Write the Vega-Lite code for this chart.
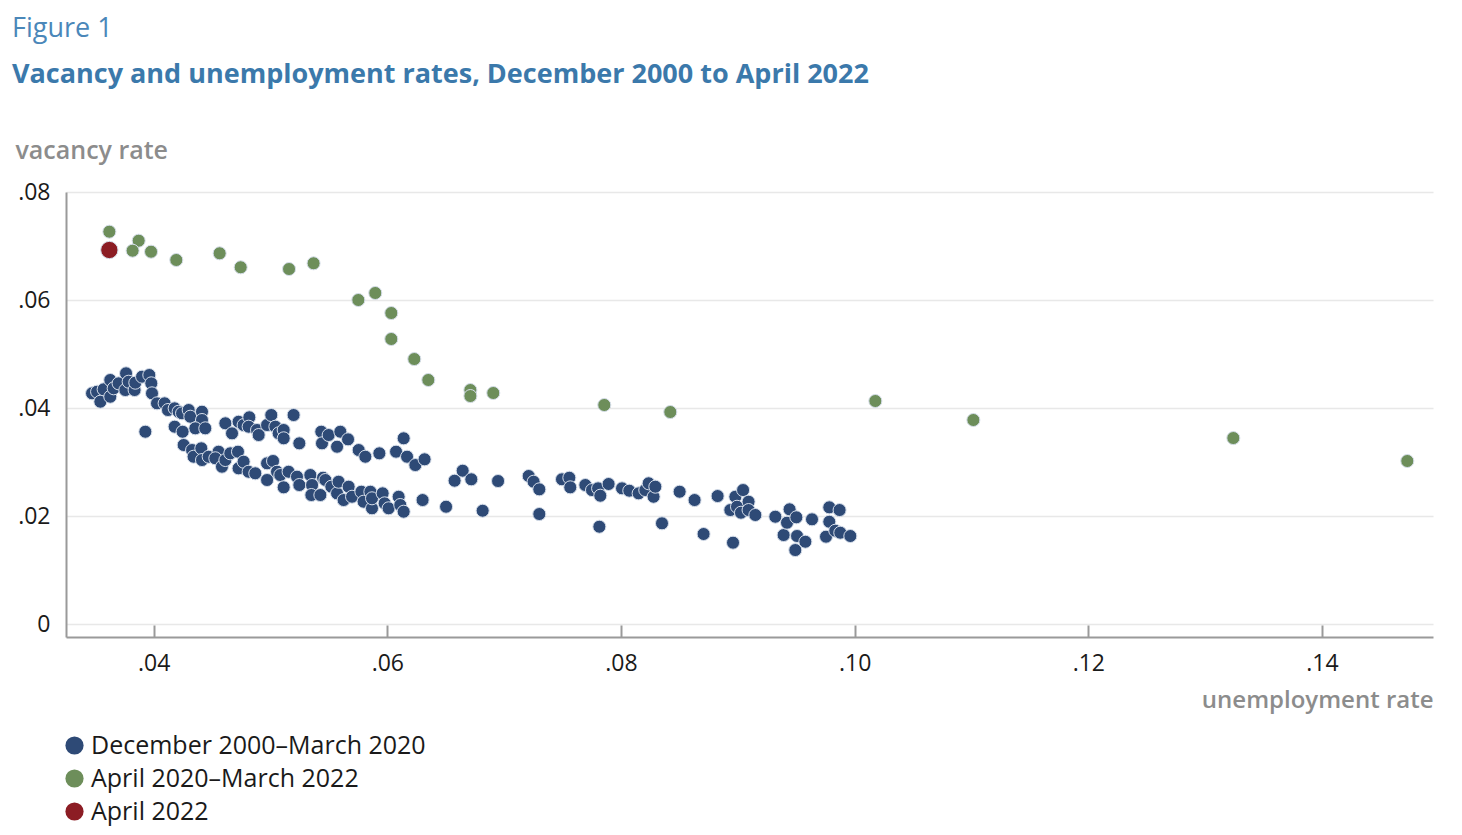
{
  "$schema": "https://vega.github.io/schema/vega-lite/v6.json",
  "width": 1367,
  "height": 445,
  "autosize": {"type": "none"},
  "padding": {"left": 66, "top": 192, "right": 29, "bottom": 198},
  "background": "white",
  "config": {"view": {"stroke": null}, "font": "Open Sans"},
  "title": {
    "text": "Figure 1",
    "subtitle": "Vacancy and unemployment rates, December 2000 to April 2022",
    "anchor": "start",
    "frame": "group",
    "dx": -54,
    "dy": 1,
    "fontSize": 27,
    "font": "Open Sans",
    "fontWeight": 400,
    "color": "#4a87b9",
    "subtitleFont": "Open Sans",
    "subtitleFontSize": 27,
    "subtitleFontWeight": "bold",
    "subtitleColor": "#3b79ab",
    "subtitlePadding": 19,
    "offset": 50
  },
  "data": {"values": [
    {"u":0.03473,"v":0.04272,"period":"December 2000–March 2020"},
    {"u":0.03516,"v":0.04302,"period":"December 2000–March 2020"},
    {"u":0.03544,"v":0.04117,"period":"December 2000–March 2020"},
    {"u":0.03572,"v":0.04346,"period":"December 2000–March 2020"},
    {"u":0.03629,"v":0.04209,"period":"December 2000–March 2020"},
    {"u":0.03629,"v":0.04519,"period":"December 2000–March 2020"},
    {"u":0.03658,"v":0.04365,"period":"December 2000–March 2020"},
    {"u":0.03700,"v":0.04457,"period":"December 2000–March 2020"},
    {"u":0.03764,"v":0.04643,"period":"December 2000–March 2020"},
    {"u":0.03758,"v":0.04333,"period":"December 2000–March 2020"},
    {"u":0.03786,"v":0.04487,"period":"December 2000–March 2020"},
    {"u":0.03837,"v":0.04333,"period":"December 2000–March 2020"},
    {"u":0.03843,"v":0.04469,"period":"December 2000–March 2020"},
    {"u":0.03901,"v":0.04580,"period":"December 2000–March 2020"},
    {"u":0.03963,"v":0.04611,"period":"December 2000–March 2020"},
    {"u":0.03980,"v":0.04457,"period":"December 2000–March 2020"},
    {"u":0.03986,"v":0.04272,"period":"December 2000–March 2020"},
    {"u":0.04029,"v":0.04087,"period":"December 2000–March 2020"},
    {"u":0.04094,"v":0.04087,"period":"December 2000–March 2020"},
    {"u":0.04123,"v":0.03963,"period":"December 2000–March 2020"},
    {"u":0.04180,"v":0.03994,"period":"December 2000–March 2020"},
    {"u":0.04214,"v":0.03931,"period":"December 2000–March 2020"},
    {"u":0.04243,"v":0.03902,"period":"December 2000–March 2020"},
    {"u":0.04300,"v":0.03963,"period":"December 2000–March 2020"},
    {"u":0.04314,"v":0.03839,"period":"December 2000–March 2020"},
    {"u":0.04414,"v":0.03931,"period":"December 2000–March 2020"},
    {"u":0.04414,"v":0.03778,"period":"December 2000–March 2020"},
    {"u":0.04357,"v":0.03624,"period":"December 2000–March 2020"},
    {"u":0.04442,"v":0.03624,"period":"December 2000–March 2020"},
    {"u":0.03929,"v":0.03561,"period":"December 2000–March 2020"},
    {"u":0.04180,"v":0.03654,"period":"December 2000–March 2020"},
    {"u":0.04248,"v":0.03561,"period":"December 2000–March 2020"},
    {"u":0.04257,"v":0.03315,"period":"December 2000–March 2020"},
    {"u":0.04329,"v":0.03222,"period":"December 2000–March 2020"},
    {"u":0.04342,"v":0.03098,"period":"December 2000–March 2020"},
    {"u":0.04408,"v":0.03254,"period":"December 2000–March 2020"},
    {"u":0.04414,"v":0.03037,"period":"December 2000–March 2020"},
    {"u":0.04471,"v":0.03098,"period":"December 2000–March 2020"},
    {"u":0.04556,"v":0.03191,"period":"December 2000–March 2020"},
    {"u":0.04528,"v":0.03069,"period":"December 2000–March 2020"},
    {"u":0.04585,"v":0.02913,"period":"December 2000–March 2020"},
    {"u":0.04614,"v":0.03037,"period":"December 2000–March 2020"},
    {"u":0.04614,"v":0.03717,"period":"December 2000–March 2020"},
    {"u":0.04671,"v":0.03531,"period":"December 2000–March 2020"},
    {"u":0.04727,"v":0.03746,"period":"December 2000–March 2020"},
    {"u":0.04770,"v":0.03685,"period":"December 2000–March 2020"},
    {"u":0.04819,"v":0.03828,"period":"December 2000–March 2020"},
    {"u":0.04813,"v":0.03654,"period":"December 2000–March 2020"},
    {"u":0.04885,"v":0.03593,"period":"December 2000–March 2020"},
    {"u":0.04899,"v":0.03500,"period":"December 2000–March 2020"},
    {"u":0.04971,"v":0.03685,"period":"December 2000–March 2020"},
    {"u":0.05007,"v":0.03870,"period":"December 2000–March 2020"},
    {"u":0.05042,"v":0.03654,"period":"December 2000–March 2020"},
    {"u":0.05070,"v":0.03531,"period":"December 2000–March 2020"},
    {"u":0.05113,"v":0.03593,"period":"December 2000–March 2020"},
    {"u":0.05113,"v":0.03439,"period":"December 2000–March 2020"},
    {"u":0.05198,"v":0.03870,"period":"December 2000–March 2020"},
    {"u":0.05247,"v":0.03346,"period":"December 2000–March 2020"},
    {"u":0.05435,"v":0.03561,"period":"December 2000–March 2020"},
    {"u":0.05441,"v":0.03346,"period":"December 2000–March 2020"},
    {"u":0.05498,"v":0.03500,"period":"December 2000–March 2020"},
    {"u":0.05570,"v":0.03283,"period":"December 2000–March 2020"},
    {"u":0.05598,"v":0.03561,"period":"December 2000–March 2020"},
    {"u":0.05664,"v":0.03420,"period":"December 2000–March 2020"},
    {"u":0.05755,"v":0.03222,"period":"December 2000–March 2020"},
    {"u":0.05812,"v":0.03098,"period":"December 2000–March 2020"},
    {"u":0.05932,"v":0.03161,"period":"December 2000–March 2020"},
    {"u":0.06075,"v":0.03191,"period":"December 2000–March 2020"},
    {"u":0.06140,"v":0.03439,"period":"December 2000–March 2020"},
    {"u":0.06169,"v":0.03098,"period":"December 2000–March 2020"},
    {"u":0.06240,"v":0.02944,"period":"December 2000–March 2020"},
    {"u":0.06319,"v":0.03050,"period":"December 2000–March 2020"},
    {"u":0.04656,"v":0.03161,"period":"December 2000–March 2020"},
    {"u":0.04722,"v":0.03191,"period":"December 2000–March 2020"},
    {"u":0.04727,"v":0.02883,"period":"December 2000–March 2020"},
    {"u":0.04770,"v":0.03006,"period":"December 2000–March 2020"},
    {"u":0.04813,"v":0.02820,"period":"December 2000–March 2020"},
    {"u":0.04870,"v":0.02791,"period":"December 2000–March 2020"},
    {"u":0.04971,"v":0.02667,"period":"December 2000–March 2020"},
    {"u":0.04971,"v":0.02976,"period":"December 2000–March 2020"},
    {"u":0.05022,"v":0.03019,"period":"December 2000–March 2020"},
    {"u":0.05056,"v":0.02820,"period":"December 2000–March 2020"},
    {"u":0.05084,"v":0.02759,"period":"December 2000–March 2020"},
    {"u":0.05113,"v":0.02531,"period":"December 2000–March 2020"},
    {"u":0.05155,"v":0.02820,"period":"December 2000–March 2020"},
    {"u":0.05227,"v":0.02728,"period":"December 2000–March 2020"},
    {"u":0.05247,"v":0.02574,"period":"December 2000–March 2020"},
    {"u":0.05341,"v":0.02759,"period":"December 2000–March 2020"},
    {"u":0.05356,"v":0.02574,"period":"December 2000–March 2020"},
    {"u":0.05350,"v":0.02389,"period":"December 2000–March 2020"},
    {"u":0.05427,"v":0.02389,"period":"December 2000–March 2020"},
    {"u":0.05450,"v":0.02709,"period":"December 2000–March 2020"},
    {"u":0.05470,"v":0.02667,"period":"December 2000–March 2020"},
    {"u":0.05521,"v":0.02543,"period":"December 2000–March 2020"},
    {"u":0.05570,"v":0.02420,"period":"December 2000–March 2020"},
    {"u":0.05583,"v":0.02635,"period":"December 2000–March 2020"},
    {"u":0.05626,"v":0.02296,"period":"December 2000–March 2020"},
    {"u":0.05669,"v":0.02543,"period":"December 2000–March 2020"},
    {"u":0.05698,"v":0.02357,"period":"December 2000–March 2020"},
    {"u":0.05778,"v":0.02450,"period":"December 2000–March 2020"},
    {"u":0.05797,"v":0.02265,"period":"December 2000–March 2020"},
    {"u":0.05855,"v":0.02450,"period":"December 2000–March 2020"},
    {"u":0.05869,"v":0.02143,"period":"December 2000–March 2020"},
    {"u":0.05869,"v":0.02328,"period":"December 2000–March 2020"},
    {"u":0.05960,"v":0.02420,"period":"December 2000–March 2020"},
    {"u":0.05977,"v":0.02235,"period":"December 2000–March 2020"},
    {"u":0.06011,"v":0.02143,"period":"December 2000–March 2020"},
    {"u":0.06097,"v":0.02357,"period":"December 2000–March 2020"},
    {"u":0.06111,"v":0.02204,"period":"December 2000–March 2020"},
    {"u":0.06140,"v":0.02080,"period":"December 2000–March 2020"},
    {"u":0.06302,"v":0.02296,"period":"December 2000–March 2020"},
    {"u":0.06503,"v":0.02172,"period":"December 2000–March 2020"},
    {"u":0.06576,"v":0.02654,"period":"December 2000–March 2020"},
    {"u":0.06645,"v":0.02839,"period":"December 2000–March 2020"},
    {"u":0.06719,"v":0.02680,"period":"December 2000–March 2020"},
    {"u":0.06816,"v":0.02098,"period":"December 2000–March 2020"},
    {"u":0.06948,"v":0.02648,"period":"December 2000–March 2020"},
    {"u":0.07210,"v":0.02741,"period":"December 2000–March 2020"},
    {"u":0.07252,"v":0.02635,"period":"December 2000–March 2020"},
    {"u":0.07301,"v":0.02494,"period":"December 2000–March 2020"},
    {"u":0.07301,"v":0.02037,"period":"December 2000–March 2020"},
    {"u":0.07495,"v":0.02680,"period":"December 2000–March 2020"},
    {"u":0.07558,"v":0.02709,"period":"December 2000–March 2020"},
    {"u":0.07566,"v":0.02531,"period":"December 2000–March 2020"},
    {"u":0.07695,"v":0.02574,"period":"December 2000–March 2020"},
    {"u":0.07752,"v":0.02481,"period":"December 2000–March 2020"},
    {"u":0.07804,"v":0.02513,"period":"December 2000–March 2020"},
    {"u":0.07823,"v":0.02376,"period":"December 2000–March 2020"},
    {"u":0.07894,"v":0.02593,"period":"December 2000–March 2020"},
    {"u":0.07815,"v":0.01802,"period":"December 2000–March 2020"},
    {"u":0.08009,"v":0.02513,"period":"December 2000–March 2020"},
    {"u":0.08071,"v":0.02469,"period":"December 2000–March 2020"},
    {"u":0.08151,"v":0.02420,"period":"December 2000–March 2020"},
    {"u":0.08208,"v":0.02481,"period":"December 2000–March 2020"},
    {"u":0.08237,"v":0.02606,"period":"December 2000–March 2020"},
    {"u":0.08279,"v":0.02357,"period":"December 2000–March 2020"},
    {"u":0.08294,"v":0.02543,"period":"December 2000–March 2020"},
    {"u":0.08351,"v":0.01865,"period":"December 2000–March 2020"},
    {"u":0.08502,"v":0.02450,"period":"December 2000–March 2020"},
    {"u":0.08630,"v":0.02296,"period":"December 2000–March 2020"},
    {"u":0.08707,"v":0.01667,"period":"December 2000–March 2020"},
    {"u":0.08827,"v":0.02370,"period":"December 2000–March 2020"},
    {"u":0.08936,"v":0.02111,"period":"December 2000–March 2020"},
    {"u":0.08979,"v":0.02357,"period":"December 2000–March 2020"},
    {"u":0.08993,"v":0.02172,"period":"December 2000–March 2020"},
    {"u":0.09045,"v":0.02481,"period":"December 2000–March 2020"},
    {"u":0.09027,"v":0.02061,"period":"December 2000–March 2020"},
    {"u":0.09092,"v":0.02265,"period":"December 2000–March 2020"},
    {"u":0.09092,"v":0.02111,"period":"December 2000–March 2020"},
    {"u":0.09150,"v":0.02019,"period":"December 2000–March 2020"},
    {"u":0.08959,"v":0.01506,"period":"December 2000–March 2020"},
    {"u":0.09321,"v":0.01987,"period":"December 2000–March 2020"},
    {"u":0.09392,"v":0.01648,"period":"December 2000–March 2020"},
    {"u":0.09443,"v":0.02124,"period":"December 2000–March 2020"},
    {"u":0.09421,"v":0.01876,"period":"December 2000–March 2020"},
    {"u":0.09501,"v":0.01976,"period":"December 2000–March 2020"},
    {"u":0.09507,"v":0.01630,"period":"December 2000–March 2020"},
    {"u":0.09492,"v":0.01370,"period":"December 2000–March 2020"},
    {"u":0.09578,"v":0.01524,"period":"December 2000–March 2020"},
    {"u":0.09635,"v":0.01939,"period":"December 2000–March 2020"},
    {"u":0.09755,"v":0.01617,"period":"December 2000–March 2020"},
    {"u":0.09783,"v":0.02161,"period":"December 2000–March 2020"},
    {"u":0.09783,"v":0.01894,"period":"December 2000–March 2020"},
    {"u":0.09834,"v":0.01728,"period":"December 2000–March 2020"},
    {"u":0.09871,"v":0.02111,"period":"December 2000–March 2020"},
    {"u":0.09877,"v":0.01691,"period":"December 2000–March 2020"},
    {"u":0.09963,"v":0.01630,"period":"December 2000–March 2020"},
    {"u":0.03621,"v":0.07265,"period":"April 2020–March 2022"},
    {"u":0.03872,"v":0.07098,"period":"April 2020–March 2022"},
    {"u":0.03820,"v":0.06913,"period":"April 2020–March 2022"},
    {"u":0.03978,"v":0.06894,"period":"April 2020–March 2022"},
    {"u":0.04194,"v":0.06741,"period":"April 2020–March 2022"},
    {"u":0.04565,"v":0.06865,"period":"April 2020–March 2022"},
    {"u":0.04745,"v":0.06606,"period":"April 2020–March 2022"},
    {"u":0.05159,"v":0.06574,"period":"April 2020–March 2022"},
    {"u":0.05369,"v":0.06680,"period":"April 2020–March 2022"},
    {"u":0.05752,"v":0.06000,"period":"April 2020–March 2022"},
    {"u":0.05897,"v":0.06130,"period":"April 2020–March 2022"},
    {"u":0.06034,"v":0.05759,"period":"April 2020–March 2022"},
    {"u":0.06034,"v":0.05278,"period":"April 2020–March 2022"},
    {"u":0.06231,"v":0.04907,"period":"April 2020–March 2022"},
    {"u":0.06351,"v":0.04519,"period":"April 2020–March 2022"},
    {"u":0.06711,"v":0.04333,"period":"April 2020–March 2022"},
    {"u":0.06711,"v":0.04222,"period":"April 2020–March 2022"},
    {"u":0.06907,"v":0.04278,"period":"April 2020–March 2022"},
    {"u":0.07857,"v":0.04056,"period":"April 2020–March 2022"},
    {"u":0.08422,"v":0.03926,"period":"April 2020–March 2022"},
    {"u":0.10177,"v":0.04130,"period":"April 2020–March 2022"},
    {"u":0.11016,"v":0.03778,"period":"April 2020–March 2022"},
    {"u":0.13241,"v":0.03444,"period":"April 2020–March 2022"},
    {"u":0.14730,"v":0.03019,"period":"April 2020–March 2022"},
    {"u":0.03621,"v":0.06926,"period":"April 2022"}
  ]},
  "mark": {"type": "circle", "opacity": 1, "stroke": "#d6deea", "strokeWidth": 1},
  "encoding": {
    "x": {
      "field": "u", "type": "quantitative",
      "scale": {"domain": [0.0325, 0.1495], "nice": false, "zero": false},
      "axis": {
        "values": [0.04, 0.06, 0.08, 0.10, 0.12, 0.14],
        "labelExpr": "substring(format(datum.value, '.2f'), 1)",
        "grid": false,
        "domainColor": "#9a9a9a", "domainWidth": 2,
        "ticks": true, "tickSize": -12, "tickColor": "#9a9a9a", "tickWidth": 2,
        "labelPadding": 27, "labelFontSize": 23, "labelColor": "#1a1a1a", "labelFont": "Open Sans",
        "title": "unemployment rate",
        "titleX": 1367, "titleY": 63, "titleAlign": "right", "titleBaseline": "middle", "titleAngle": 0,
        "titleFontSize": 24, "titleFontWeight": 600, "titleColor": "#8c8c8c", "titleFont": "Open Sans"
      }
    },
    "y": {
      "field": "v", "type": "quantitative",
      "scale": {"domain": [-0.0024, 0.08], "nice": false, "zero": false},
      "axis": {
        "values": [0, 0.02, 0.04, 0.06, 0.08],
        "labelExpr": "datum.value == 0 ? '0' : substring(format(datum.value, '.2f'), 1)",
        "grid": true, "gridColor": "#e8e8e8", "gridWidth": 1.5,
        "domainColor": "#9a9a9a", "domainWidth": 2,
        "ticks": false,
        "labelPadding": 16, "labelFontSize": 23, "labelColor": "#1a1a1a", "labelFont": "Open Sans",
        "title": "vacancy rate",
        "titleX": -51, "titleY": -42, "titleAlign": "left", "titleBaseline": "middle", "titleAngle": 0,
        "titleFontSize": 25, "titleFontWeight": 600, "titleColor": "#8c8c8c", "titleFont": "Open Sans"
      }
    },
    "color": {
      "field": "period", "type": "nominal",
      "scale": {
        "domain": ["December 2000–March 2020", "April 2020–March 2022", "April 2022"],
        "range": ["#2e4a76", "#6d8e5a", "#8c1d24"]
      },
      "legend": {
        "orient": "none", "legendX": -4, "legendY": 541,
        "title": null, "direction": "vertical",
        "symbolType": "circle", "symbolSize": 330, "symbolStrokeWidth": 0,
        "labelFontSize": 25, "labelColor": "#1a1a1a", "labelFont": "Open Sans", "labelLimit": 0,
        "rowPadding": 7, "labelOffset": 4, "padding": 0
      }
    },
    "size": {
      "condition": {"test": "datum.period === 'April 2022'", "value": 300},
      "value": 170
    }
  }
}
